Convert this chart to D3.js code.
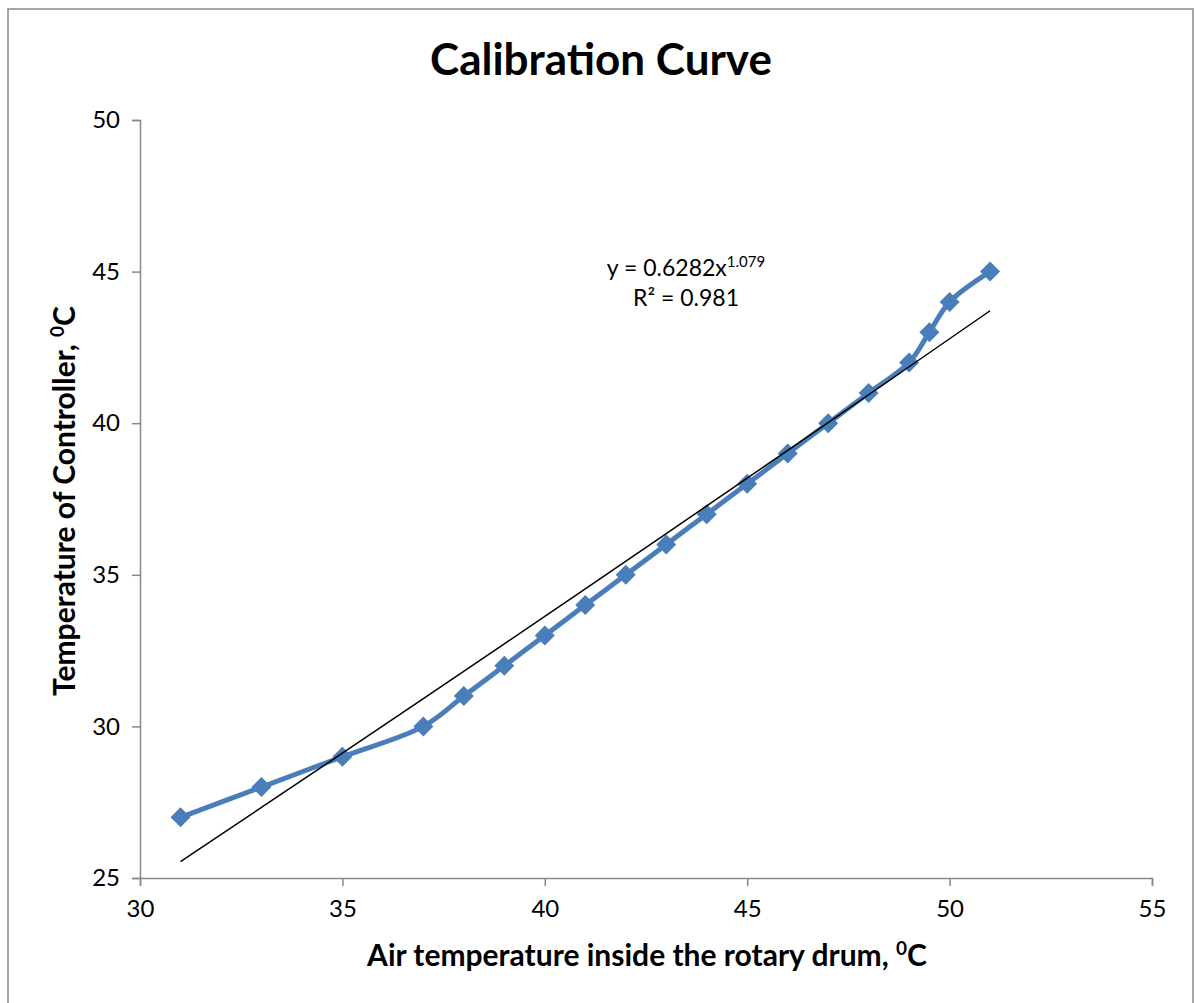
<!DOCTYPE html>
<html><head><meta charset="utf-8">
<script src="https://cdn.jsdelivr.net/npm/d3@7"></script>
<style>html,body{margin:0;padding:0;background:#fff;} svg{display:block;}</style>
</head><body>
<script>
const airTemp = [31, 33, 35, 37, 38, 39, 40, 41, 42, 43, 44, 45, 46, 47, 48, 49, 49.5, 50, 51];
const controllerTemp = [27, 28, 29, 30, 31, 32, 33, 34, 35, 36, 37, 38, 39, 40, 41, 42, 43, 44, 45];
const xTicks = [30, 35, 40, 45, 50, 55];
const yTicks = [25, 30, 35, 40, 45, 50];
const trendCoef = 0.6282, trendExp = 1.079, rSquared = 0.981;
const trendX = [31, 33, 35, 37, 39, 41, 43, 45, 47, 49, 51];

const W = 1195, H = 1003;
const font = "Lato, 'Open Sans', sans-serif";
const svg = d3.select("body").append("svg").attr("width", W).attr("height", H);

svg.append("rect").attr("x", 8).attr("y", 9).attr("width", 1185).attr("height", 1010)
  .attr("fill", "#fff").attr("stroke", "#888").attr("stroke-width", 1.5);

const x = d3.scaleLinear().domain([30, 55]).range([140, 1152]);
const y = d3.scaleLinear().domain([25, 50]).range([878, 120]);

svg.append("text").attr("x", 601).attr("y", 75).attr("text-anchor", "middle")
  .attr("font-family", font).attr("font-weight", "bold").attr("font-size", 44)
  .text("Calibration Curve");

const yAxis = svg.append("g").attr("transform", "translate(140,0)")
  .call(d3.axisLeft(y).tickValues(yTicks).tickSize(8).tickPadding(12).tickFormat(d3.format("d")));
const xAxis = svg.append("g").attr("transform", "translate(0,878)")
  .call(d3.axisBottom(x).tickValues(xTicks).tickSize(8).tickPadding(14).tickFormat(d3.format("d")));
[yAxis, xAxis].forEach(g => {
  g.select(".domain").attr("stroke", "#888").attr("stroke-width", 1.5);
  g.selectAll(".tick line").attr("stroke", "#888").attr("stroke-width", 1.5);
  g.selectAll(".tick text").attr("font-family", font).attr("font-size", 24).attr("fill", "#000");
});

const line = d3.line().x(d => x(d[0])).y(d => y(d[1])).curve(d3.curveCatmullRom.alpha(0.5));
const pts = airTemp.map((v, i) => [v, controllerTemp[i]]);

const trendPts = trendX.map(v => [v, trendCoef * Math.pow(v, trendExp)]);
const tline = d3.line().x(d => x(d[0])).y(d => y(d[1])).curve(d3.curveMonotoneX);

svg.append("path").datum(pts).attr("d", line).attr("fill", "none")
  .attr("stroke", "#4A7EBB").attr("stroke-width", 5).attr("stroke-linejoin", "round");

svg.selectAll(".mk").data(pts).enter().append("path").attr("class", "mk")
  .attr("d", d3.symbol().type(d3.symbolSquare).size(200))
  .attr("transform", d => `translate(${x(d[0])},${y(d[1])}) rotate(45)`)
  .attr("fill", "#4A7EBB");

svg.append("path").datum(trendPts).attr("d", tline).attr("fill", "none")
  .attr("stroke", "#000").attr("stroke-width", 1.5);

const eq = svg.append("text").attr("x", 686).attr("y", 276).attr("text-anchor", "middle")
  .attr("font-family", font).attr("font-size", 23);
eq.append("tspan").text("y = " + trendCoef + "x");
eq.append("tspan").attr("dy", -9).attr("font-size", 15).text(trendExp);
svg.append("text").attr("x", 686).attr("y", 306).attr("text-anchor", "middle")
  .attr("font-family", font).attr("font-size", 23).text("R² = " + rSquared);

const xt = svg.append("text").attr("x", 647).attr("y", 966).attr("text-anchor", "middle")
  .attr("font-family", font).attr("font-weight", "bold").attr("font-size", 30);
xt.append("tspan").text("Air temperature inside the rotary drum, ");
xt.append("tspan").attr("dy", -11).attr("font-size", 19).text("0");
xt.append("tspan").attr("dy", 11).text("C");

const yt = svg.append("text").attr("transform", "translate(75,501) rotate(-90)").attr("text-anchor", "middle")
  .attr("font-family", font).attr("font-weight", "bold").attr("font-size", 30);
yt.append("tspan").text("Temperature of Controller, ");
yt.append("tspan").attr("dy", -11).attr("font-size", 19).text("0");
yt.append("tspan").attr("dy", 11).text("C");
</script>
</body></html>
